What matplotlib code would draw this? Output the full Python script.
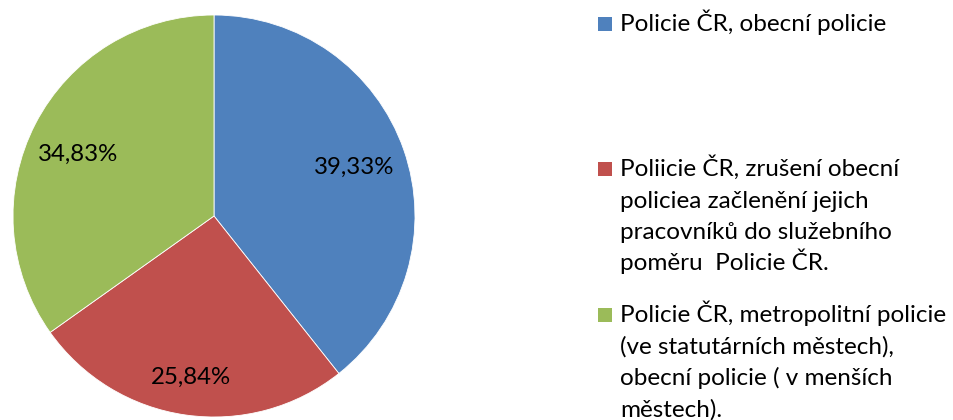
import numpy as np
import matplotlib.pyplot as plt
from matplotlib.patches import Rectangle

# Data
kategorie = [
    ['Policie ČR, obecní policie'],
    ['Poliicie ČR, zrušení obecní', 'policiea začlenění jejich',
     'pracovníků do služebního', 'poměru  Policie ČR.'],
    ['Policie ČR, metropolitní policie', '(ve statutárních městech),',
     'obecní policie ( v menších', 'městech).'],
]
podily = [39.33, 25.84, 34.83]
barvy = ['#4F81BD', '#C0504D', '#9BBB59']

plt.rcParams['font.family'] = ['Lato', 'DejaVu Sans']

W, H = 954, 420
fig = plt.figure(figsize=(W / 100, H / 100), dpi=100)

# Pie axes: centre ~ (214, 216) px, radius ~ 201 px
ax = fig.add_axes([13 / W, (H - 417) / H, 402 / W, 402 / H])
wedges, texts, auto = ax.pie(podily, colors=barvy, startangle=90,
                             counterclock=False, radius=1.0,
                             autopct=lambda p: f'{p:.2f}%'.replace('.', ','),
                             pctdistance=0.74,
                             wedgeprops=dict(linewidth=0.6, edgecolor='white'),
                             textprops=dict(fontsize=17.3, color='black'))
# red label sits a bit further out
x, y = auto[1].get_position()
auto[1].set_position((x * 0.81 / 0.74, y * 0.81 / 0.74))
# green label a little lower (rotated ~3 degrees)
x, y = auto[2].get_position()
a = np.deg2rad(3)
auto[2].set_position((x * np.cos(a) - y * np.sin(a), x * np.sin(a) + y * np.cos(a)))
ax.set_xlim(-1, 1)
ax.set_ylim(-1, 1)
ax.set_aspect('equal')
ax.axis('off')

# Legend drawn manually (baseline of first line in px from top)
zaklad = [31, 176, 322]
krok = 31.5
for lines, c, y0 in zip(kategorie, barvy, zaklad):
    fig.patches.append(Rectangle((598 / W, (H - y0) / H), 14 / W, 14 / H,
                                 transform=fig.transFigure, facecolor=c,
                                 edgecolor='none'))
    for i, t in enumerate(lines):
        fig.text(620 / W, (H - y0 - i * krok) / H, t, fontsize=17.5,
                 ha='left', va='baseline', color='black')

fig.savefig('out.png', dpi=100)
